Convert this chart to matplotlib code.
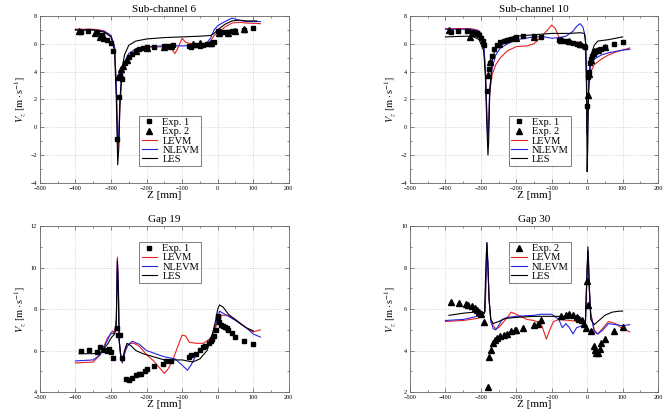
import numpy as np
import matplotlib
matplotlib.use("Agg")
import matplotlib.pyplot as plt
from matplotlib.ticker import MultipleLocator

plt.rcParams['font.family'] = ['Liberation Serif', 'DejaVu Serif']
plt.rcParams['mathtext.fontset'] = 'stix'

# ---------------- Sub-channel 6 ----------------
sc6_exp1_z = [-385, -365, -340, -325, -310, -300, -295, -282, -278, -268, -260, -250, -240, -230, -220, -210,
              -200, -180, -150, -140, -125, -80, -75, -60, -50, -40, -30, -20, -10, 0, 10, 20, 30, 40, 50, 75, 100]
sc6_exp1_v = [6.85, 6.9, 6.85, 6.6, 6.3, 6.05, 5.5, -0.85, 2.2, 3.45, 4.6, 5.05, 5.3, 5.5, 5.65, 5.7,
              5.75, 5.8, 5.85, 5.85, 5.95, 5.85, 5.8, 5.95, 5.85, 5.95, 6.0, 6.0, 6.1, 6.9, 6.85, 6.85, 6.85, 6.9, 6.9, 7.0, 7.15]
sc6_exp2_z = [-390, -345, -330, -320, -280, -275, -272, -265, -255, -230, -200, -150, -130, -70, -50, -20, 5, 30, 50, 75]
sc6_exp2_v = [6.9, 6.8, 6.5, 6.4, 3.6, 3.85, 4.2, 4.4, 4.85, 5.45, 5.7, 5.8, 5.85, 6.0, 6.05, 6.05, 6.8, 6.8, 6.95, 7.1]
sc6_levm_z = [-400, -350, -320, -300, -290, -285, -281, -278, -275, -270, -260, -250, -230, -200, -150, -130, -120,
              -110, -100, -90, -70, -50, -30, -20, -10, 0, 20, 40, 60, 80, 120]
sc6_levm_v = [7.05, 7.05, 6.95, 6.6, 5.8, 3.0, -1.5, -1.0, 1.5, 3.5, 4.6, 5.1, 5.5, 5.75, 5.8, 5.65, 5.3,
              5.8, 6.4, 6.1, 6.0, 5.95, 6.0, 6.2, 6.6, 6.8, 7.2, 7.5, 7.55, 7.5, 7.45]
sc6_nlevm_z = [-400, -350, -320, -300, -290, -285, -281, -278, -275, -270, -260, -250, -230, -200, -150, -100,
               -70, -50, -30, -20, -10, 0, 20, 40, 60, 80, 120]
sc6_nlevm_v = [7.0, 7.0, 6.9, 6.6, 5.8, 3.0, -1.0, -0.5, 2.0, 3.5, 4.8, 5.3, 5.65, 5.8, 5.85, 5.85,
               5.9, 5.85, 6.1, 6.4, 7.0, 7.3, 7.6, 7.85, 7.7, 7.6, 7.6]
sc6_les_z = [-400, -350, -320, -300, -290, -285, -281, -278, -275, -270, -262, -250, -230, -200, -150, -100,
             -50, -20, -10, 0, 20, 40, 60, 80, 110]
sc6_les_v = [7.0, 7.0, 6.85, 6.5, 5.5, 2.0, -2.7, -1.5, 1.5, 4.0, 5.2, 5.9, 6.2, 6.35, 6.45, 6.5,
             6.55, 6.6, 6.75, 7.0, 7.4, 7.65, 7.7, 7.65, 7.65]

# ---------------- Sub-channel 10 ----------------
sc10_exp1_z = [-385, -365, -340, -325, -315, -310, -305, -300, -295, -290, -283, -278, -275, -270, -262, -255,
               -245, -235, -225, -215, -205, -200, -180, -150, -130, -80, -75, -60, -50, -40, -30, -20, -10, -5,
               0, 3, 5, 8, 12, 15, 20, 25, 30, 40, 50, 75, 100]
sc10_exp1_v = [6.85, 6.9, 6.9, 6.85, 6.8, 6.75, 6.6, 6.45, 6.2, 5.95, 2.6, 4.2, 4.6, 5.1, 5.6, 5.9,
               6.1, 6.2, 6.3, 6.35, 6.45, 6.5, 6.55, 6.55, 6.5, 6.3, 6.25, 6.2, 6.15, 6.05, 6.0, 5.95, 5.85, 5.8,
               1.5, 3.6, 3.95, 4.6, 4.9, 5.1, 5.3, 5.45, 5.55, 5.65, 5.75, 6.0, 6.1]
sc10_exp2_z = [-390, -330, -320, -280, -275, -250, -200, -150, -75, -50, -20, 2, 4, 10, 20, 30, 50]
sc10_exp2_v = [7.0, 6.5, 6.75, 3.75, 4.7, 6.0, 6.4, 6.5, 6.3, 6.2, 6.0, 2.35, 3.8, 4.85, 5.45, 5.55, 5.8]
sc10_levm_z = [-400, -330, -310, -300, -292, -287, -283, -280, -278, -275, -268, -258, -245, -225, -200, -170,
               -150, -130, -115, -100, -90, -80, -60, -40, -20, -10, -5, -2, 0, 2, 5, 10, 20, 40, 60, 80, 100, 120]
sc10_levm_v = [7.1, 7.1, 7.0, 6.8, 6.0, 4.0, 1.0, -0.5, 0.5, 2.5, 3.8, 4.5, 5.0, 5.5, 5.8, 5.85,
               6.0, 6.5, 6.9, 7.35, 7.1, 6.5, 6.2, 6.15, 6.1, 5.95, 5.5, 3.5, 0.0, 1.5, 3.3, 4.0, 4.5, 4.9, 5.2, 5.4, 5.55, 5.7]
sc10_nlevm_z = [-400, -330, -310, -300, -292, -287, -283, -280, -278, -275, -268, -258, -245, -225, -200, -150,
                -120, -100, -80, -60, -40, -30, -20, -12, -5, -2, 0, 2, 5, 10, 20, 40, 60, 80, 100, 120]
sc10_nlevm_v = [7.05, 7.05, 6.95, 6.75, 6.0, 4.0, 0.5, -1.0, 0.0, 2.8, 4.3, 5.2, 5.7, 6.0, 6.3, 6.5,
                6.5, 6.4, 6.45, 6.55, 6.9, 7.25, 7.45, 7.2, 6.5, 4.0, -0.5, 1.0, 3.5, 4.5, 4.9, 5.2, 5.35, 5.45, 5.55, 5.6]
sc10_les_z = [-400, -340, -320, -305, -292, -287, -283, -280, -278, -275, -268, -258, -245, -225, -200, -150,
              -100, -50, -20, -8, -4, -2, 0, 2, 4, 8, 12, 20, 30, 60, 100]
sc10_les_v = [6.5, 6.55, 6.5, 6.3, 5.5, 3.5, 0.0, -2.0, -1.0, 2.5, 4.8, 5.8, 6.2, 6.4, 6.55, 6.65,
              6.75, 6.75, 6.8, 6.75, 6.0, 3.0, -3.2, -1.0, 2.5, 4.5, 5.3, 5.9, 6.2, 6.3, 6.5]

# ---------------- Gap 19 ----------------
g19_exp1_z = [-385, -362, -340, -332, -320, -312, -305, -300, -295, -282, -280, -275, -268, -258, -250, -240,
              -230, -222, -215, -205, -200, -180, -155, -145, -130, -80, -75, -60, -50, -40, -35, -25, -20, -15,
              -10, -5, 0, 2, 5, 10, 15, 20, 25, 30, 40, 50, 75, 100]
g19_exp1_v = [6.0, 6.05, 5.95, 6.15, 6.05, 6.0, 6.1, 5.95, 5.65, 7.1, 6.75, 6.75, 5.65, 4.65, 4.6, 4.7,
              4.8, 4.85, 4.85, 5.0, 5.1, 5.25, 5.35, 5.5, 5.5, 5.7, 5.8, 5.85, 6.05, 6.15, 6.2, 6.35, 6.45, 6.55,
              6.7, 7.0, 7.55, 7.65, 7.4, 7.25, 7.2, 7.15, 7.1, 7.0, 6.85, 6.65, 6.45, 6.3]
g19_levm_z = [-400, -350, -330, -310, -295, -290, -285, -282, -279, -277, -272, -268, -262, -255, -245, -235,
              -220, -200, -180, -165, -150, -140, -125, -110, -100, -90, -80, -60, -40, -20, -10, 0, 10, 30, 50, 80, 100, 120]
g19_levm_v = [5.4, 5.45, 5.8, 6.6, 6.95, 6.8, 7.5, 10.5, 9.0, 6.5, 5.6, 5.4, 5.8, 6.25, 6.35, 6.35,
              6.2, 5.8, 5.5, 5.2, 4.9, 5.1, 5.6, 6.3, 6.75, 6.7, 6.4, 6.35, 6.35, 6.6, 6.9, 7.4, 7.7, 7.7, 7.5, 7.1, 6.9, 7.0]
g19_nlevm_z = [-400, -350, -330, -310, -300, -290, -285, -282, -279, -277, -272, -268, -260, -250, -240, -220,
               -200, -150, -120, -100, -85, -75, -60, -40, -20, -10, 0, 5, 20, 50, 80, 100, 120]
g19_nlevm_v = [5.5, 5.55, 5.8, 6.5, 6.85, 6.8, 7.5, 10.4, 9.0, 6.5, 5.6, 5.45, 6.0, 6.3, 6.45, 6.3,
               6.0, 5.7, 5.6, 5.3, 5.05, 5.3, 5.8, 6.1, 6.5, 7.0, 7.55, 7.9, 7.75, 7.45, 7.1, 6.8, 6.65]
g19_les_z = [-390, -350, -330, -310, -300, -290, -285, -282, -279, -277, -272, -268, -262, -255, -245, -230,
             -210, -180, -150, -100, -70, -50, -30, -15, -5, 0, 5, 15, 30, 60, 80, 100]
g19_les_v = [5.85, 5.85, 5.9, 6.3, 6.6, 6.8, 7.3, 10.3, 8.5, 6.5, 5.7, 5.55, 6.0, 6.35, 6.25, 6.0,
             5.85, 5.7, 5.55, 5.55, 5.45, 5.6, 6.0, 6.8, 7.5, 8.0, 8.2, 8.1, 7.75, 7.35, 7.1, 6.95]

# ---------------- Gap 30 ----------------
g30_exp2_z = [-385, -363, -342, -335, -325, -318, -312, -305, -300, -290, -280, -276, -272, -265, -260, -255,
              -245, -235, -225, -215, -205, -200, -180, -150, -140, -130, -75, -60, -50, -40, -30, -22, -15, -8,
              -3, 0, 2, 10, 18, 22, 25, 30, 35, 40, 50, 75, 100]
g30_exp2_v = [6.35, 6.3, 6.25, 6.2, 6.15, 6.05, 5.95, 5.85, 5.75, 5.4, 2.25, 3.7, 4.05, 4.35, 4.5, 4.6,
              4.7, 4.75, 4.8, 4.95, 5.0, 5.0, 5.1, 5.25, 5.3, 5.45, 5.65, 5.7, 5.75, 5.7, 5.6, 5.5, 5.45, 5.3,
              5.1, 7.35, 6.2, 4.95, 4.2, 4.05, 3.9, 3.9, 4.1, 4.35, 4.55, 4.95, 5.15]
g30_levm_z = [-400, -350, -310, -295, -288, -283, -280, -277, -272, -265, -258, -250, -240, -225, -215, -200,
              -170, -150, -130, -120, -115, -108, -95, -80, -50, -20, -5, 0, 3, 6, 10, 20, 30, 50, 60, 80, 100, 120]
g30_levm_v = [5.4, 5.45, 5.55, 5.65, 5.9, 9.0, 8.0, 6.5, 5.5, 5.2, 5.05, 5.1, 5.3, 5.6, 5.85, 5.75,
              5.5, 5.45, 5.3, 4.8, 4.55, 4.9, 5.4, 5.5, 5.45, 5.4, 5.35, 8.0, 8.8, 7.0, 5.8, 5.0, 4.8, 5.2, 5.4, 5.3, 5.05, 4.9]
g30_nlevm_z = [-400, -350, -310, -295, -288, -283, -280, -277, -272, -265, -258, -250, -240, -225, -200, -150,
               -130, -100, -80, -70, -60, -50, -40, -30, -15, -5, 0, 3, 6, 10, 20, 30, 45, 60, 80, 100, 120]
g30_nlevm_v = [5.45, 5.5, 5.65, 5.75, 5.9, 9.2, 8.2, 6.5, 5.4, 5.05, 5.0, 5.2, 5.5, 5.6, 5.65, 5.7,
               5.75, 5.75, 5.5, 5.1, 5.3, 5.1, 4.8, 5.1, 5.2, 5.3, 8.0, 8.8, 7.0, 5.8, 4.9, 4.8, 5.0, 5.3, 5.25, 5.2, 5.25]
g30_les_z = [-390, -350, -320, -300, -290, -285, -283, -280, -277, -272, -265, -250, -230, -200, -150, -100,
             -50, -20, -5, 0, 2, 5, 10, 20, 30, 50, 70, 90, 100]
g30_les_v = [5.7, 5.8, 5.85, 5.9, 5.8, 8.5, 9.2, 8.0, 6.5, 5.5, 5.3, 5.4, 5.55, 5.6, 5.65, 5.65,
             5.65, 5.5, 5.35, 8.0, 9.0, 7.5, 5.5, 5.25, 5.4, 5.7, 5.85, 5.9, 5.9]

fig = plt.figure(figsize=(6.64, 4.11), dpi=100)

axes_pos = [
    [0.060, 0.555, 0.375, 0.406],
    [0.6175, 0.555, 0.3735, 0.406],
    [0.060, 0.046, 0.375, 0.404],
    [0.6175, 0.046, 0.3735, 0.404],
]

panels = [
    dict(title='Sub-channel 6', ylim=(-4, 8),
         exp1=(sc6_exp1_z, sc6_exp1_v), exp2=(sc6_exp2_z, sc6_exp2_v),
         levm=(sc6_levm_z, sc6_levm_v), nlevm=(sc6_nlevm_z, sc6_nlevm_v), les=(sc6_les_z, sc6_les_v),
         leg=(0.40, 0.10), legloc='lower left'),
    dict(title='Sub-channel 10', ylim=(-4, 8),
         exp1=(sc10_exp1_z, sc10_exp1_v), exp2=(sc10_exp2_z, sc10_exp2_v),
         levm=(sc10_levm_z, sc10_levm_v), nlevm=(sc10_nlevm_z, sc10_nlevm_v), les=(sc10_les_z, sc10_les_v),
         leg=(0.40, 0.10), legloc='lower left'),
    dict(title='Gap 19', ylim=(4, 12),
         exp1=(g19_exp1_z, g19_exp1_v), exp2=None,
         levm=(g19_levm_z, g19_levm_v), nlevm=(g19_nlevm_z, g19_nlevm_v), les=(g19_les_z, g19_les_v),
         leg=(0.40, 0.905), legloc='upper left'),
    dict(title='Gap 30', ylim=(2, 10),
         exp1=None, exp2=(g30_exp2_z, g30_exp2_v),
         levm=(g30_levm_z, g30_levm_v), nlevm=(g30_nlevm_z, g30_nlevm_v), les=(g30_les_z, g30_les_v),
         leg=(0.40, 0.905), legloc='upper left'),
]

for pos, p in zip(axes_pos, panels):
    ax = fig.add_axes(pos)
    if p['exp1'] is not None:
        ax.plot(p['exp1'][0], p['exp1'][1], 's', color='black', markersize=3.5, label='Exp. 1', zorder=5)
    if p['exp2'] is not None:
        ax.plot(p['exp2'][0], p['exp2'][1], '^', color='black', markersize=3.8, label='Exp. 2', zorder=5)
    ax.plot(p['levm'][0], p['levm'][1], color='#e8221d', lw=0.8, label='LEVM')
    ax.plot(p['nlevm'][0], p['nlevm'][1], color='#2424e0', lw=0.8, label='NLEVM')
    ax.plot(p['les'][0], p['les'][1], color='black', lw=0.8, label='LES')

    ax.set_xlim(-500, 200)
    ax.set_ylim(*p['ylim'])
    ax.xaxis.set_major_locator(MultipleLocator(100))
    ax.xaxis.set_minor_locator(MultipleLocator(50))
    ax.yaxis.set_major_locator(MultipleLocator(2))
    ax.yaxis.set_minor_locator(MultipleLocator(1))
    ax.tick_params(which='both', direction='in', top=True, right=True, labelsize=4.5,
                   color='#555555', pad=2)
    ax.tick_params(which='major', length=3, width=0.5)
    ax.tick_params(which='minor', length=1.5, width=0.5)
    ax.grid(True, which='major', linestyle=':', color='#c8c8c8', linewidth=0.6)
    for s in ax.spines.values():
        s.set_color('#666666')
        s.set_linewidth(0.6)

    ax.set_title(p['title'], fontsize=8, pad=3)
    ax.set_xlabel('Z [mm]', fontsize=8, labelpad=0)
    ax.set_ylabel(r'$V_z\ \left[\mathrm{m \cdot s^{-1}}\right]$', fontsize=7.5, labelpad=2)

    leg = ax.legend(loc=p['legloc'], bbox_to_anchor=p['leg'], fontsize=7.5, frameon=True,
                    fancybox=False, edgecolor='#444444', handlelength=1.5, handletextpad=0.5,
                    borderpad=0.2, labelspacing=0.0, borderaxespad=0)
    leg.get_frame().set_linewidth(0.6)

fig.savefig('out.png', dpi=100)
